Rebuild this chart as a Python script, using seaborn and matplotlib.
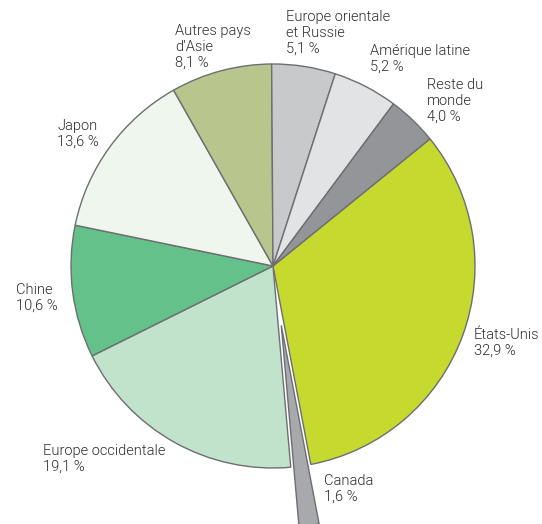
import matplotlib
matplotlib.use("Agg")
import matplotlib.pyplot as plt
import seaborn as sns

sns.set_theme(style="white")
plt.rcParams["font.family"] = ["Roboto", "DejaVu Sans"]

# Regional shares (%), clockwise from États-Unis
regions = ["États-Unis", "Canada", "Europe occidentale", "Chine", "Japon",
           "Autres pays\nd’Asie", "Europe orientale\net Russie",
           "Amérique latine", "Reste du\nmonde"]
shares = [32.9, 1.6, 19.1, 10.6, 13.6, 8.1, 5.1, 5.2, 4.0]
colors = ["#c6d92e", "#a7a9ac", "#c1e2cb", "#63c189", "#eff6ee",
          "#b8c68e", "#c8c9cb", "#e2e3e5", "#939598"]

W, H = 542, 524
R = 202
# Canada is pulled out of the pie (offset in pixels)
explode = [0, 60, 0, 0, 0, 0, 0, 0, 0]

# label anchor (left, top) in pixels
label_pos = [(474, 328), (324, 474), (43, 444), (16, 283), (57, 119),
             (175, 24), (286, 10), (370, 44), (427, 78)]

fig = plt.figure(figsize=(W / 100, H / 100), dpi=100)
ax = fig.add_axes([0, 0, 1, 1])
ax.pie(shares, colors=colors, explode=explode, startangle=39,
       counterclock=False, center=(273, H - 266), radius=R,
       wedgeprops=dict(edgecolor="#6d6e71", linewidth=1.0))
ax.set_xlim(0, W)
ax.set_ylim(0, H)
ax.set_aspect("equal")
ax.axis("off")

for name, val, (px, py) in zip(regions, shares, label_pos):
    txt = f"{name}\n{val:.1f} %".replace(".", ",")
    fig.text(px / W, 1 - py / H, txt, ha="left", va="top",
             fontsize=10.5, fontweight=300, color="#2b2b2b",
             linespacing=1.15)

fig.savefig("out.png", dpi=100, facecolor="white")
